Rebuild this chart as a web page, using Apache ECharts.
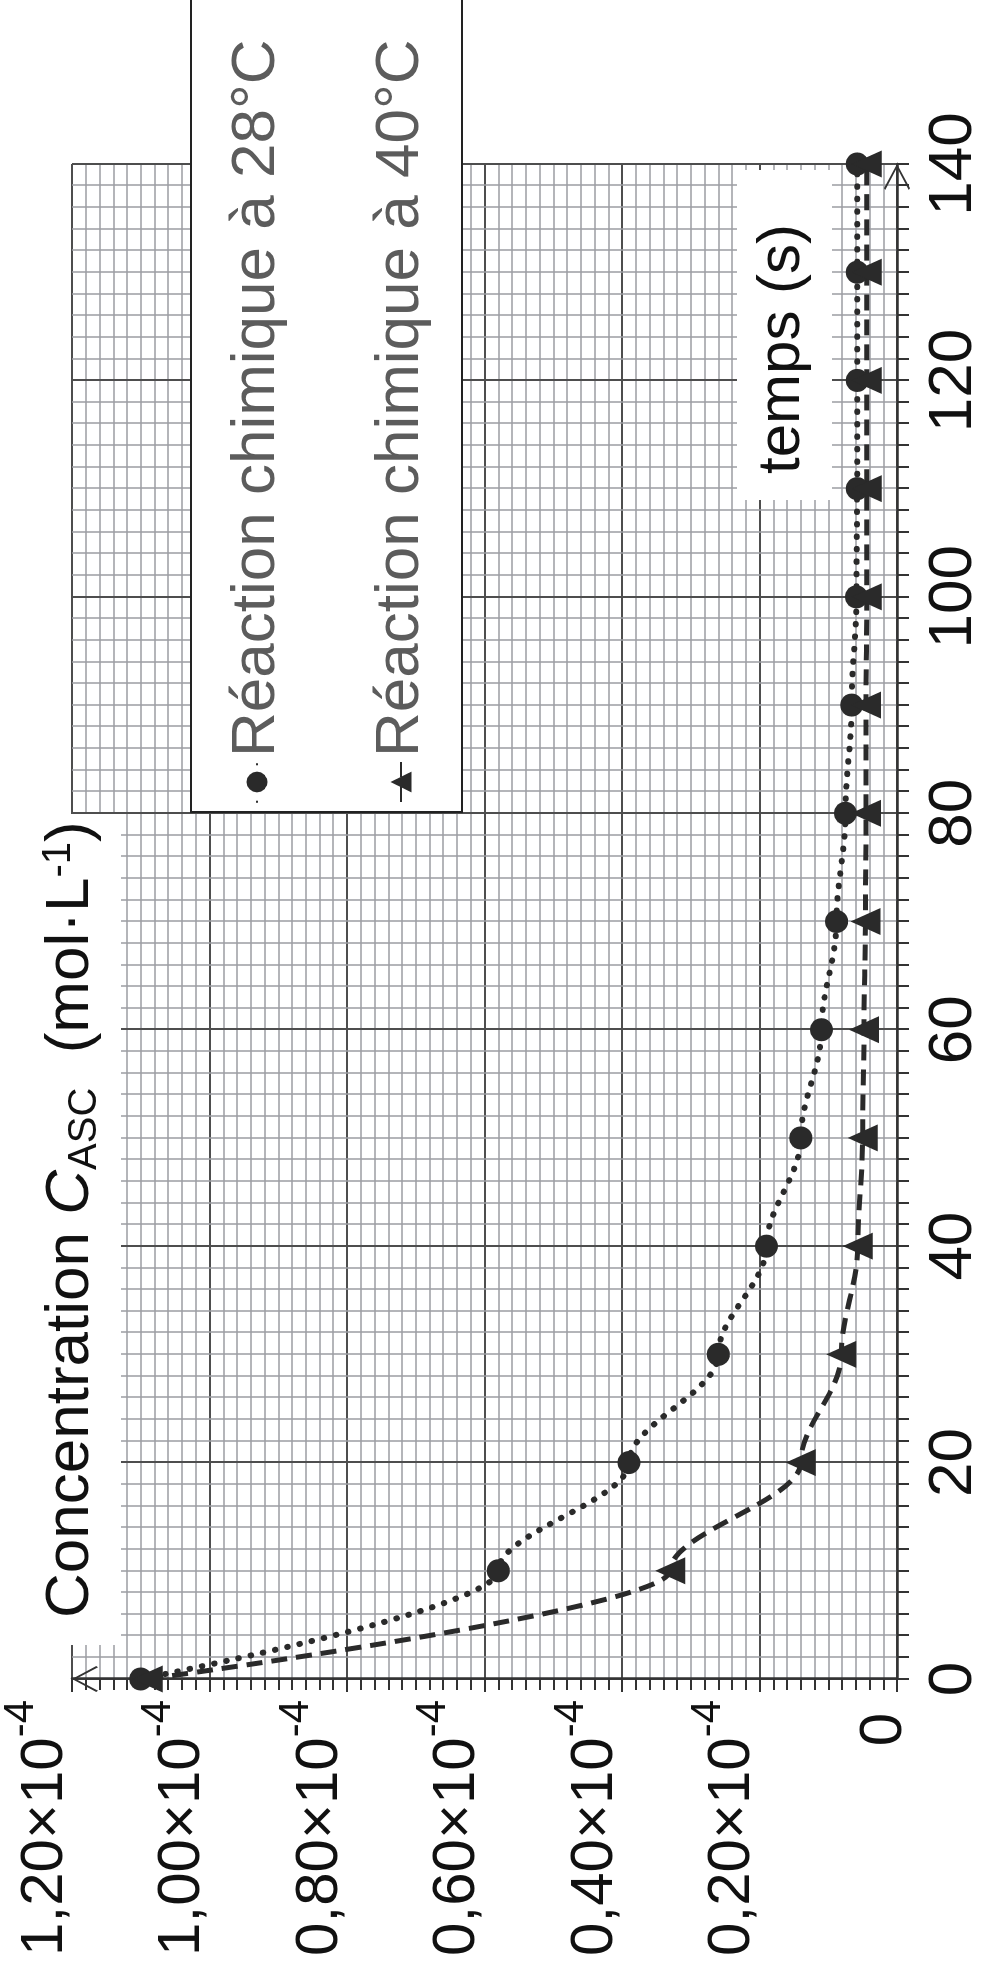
<!DOCTYPE html>
<html>
<head>
<meta charset="utf-8">
<script src="https://cdn.jsdelivr.net/npm/echarts@6/dist/echarts.min.js"></script>
<style>
  html, body { margin: 0; padding: 0; background: #fff; }
  #wrap { position: relative; width: 985px; height: 1974px; overflow: hidden; }
  /* the chart is drawn lying down, then turned a quarter turn counter-clockwise */
  #chart {
    position: absolute; left: 0; top: 0;
    width: 1974px; height: 985px;
    transform-origin: 0 0;
    transform: translateY(1974px) rotate(-90deg);
  }
</style>
</head>
<body>
<div id="wrap"><div id="chart"></div></div>
<script>
// temps en s
var temps = [0, 10, 20, 30, 40, 50, 60, 70, 80, 90, 100, 110, 120, 130, 140];
// concentration en 10^-4 mol/L
var conc28 = [1.10, 0.58, 0.39, 0.26, 0.19, 0.14, 0.11, 0.088, 0.075, 0.066, 0.059, 0.058, 0.058, 0.058, 0.058];
var conc40 = [1.09, 0.33, 0.14, 0.081, 0.057, 0.050, 0.048, 0.046, 0.045, 0.045, 0.044, 0.044, 0.044, 0.044, 0.044];
var noms = ['Réaction chimique à 28°C', 'Réaction chimique à 40°C'];

var font = '"Liberation Sans", Arial, Helvetica, sans-serif';
var ink = '#2a2a2a';
var chevron = 'path://M50,0 L100,93 L95,100 L50,14 L5,100 L0,93 Z';

var myChart = echarts.init(document.getElementById('chart'));

function pts(vals) {
  return temps.map(function (t, i) { return [t, vals[i]]; });
}

var option = {
  animation: false,
  backgroundColor: '#fff',
  grid: { left: 295, right: 164, top: 50, bottom: 81 },
  legend: {
    data: noms,
    orient: 'vertical',
    left: 1171,
    top: 226,
    padding: 0,
    itemGap: 82,
    itemWidth: 40,
    itemHeight: 26,
    z: 20,
    textStyle: { fontSize: 62, lineHeight: 62, color: '#5c5c5c', fontFamily: font }
  },
  xAxis: {
    type: 'value',
    min: 0,
    max: 140,
    interval: 20,
    axisLine: {
      lineStyle: { color: '#333', width: 2.5 },
      symbol: ['none', chevron],
      symbolSize: [26, 30],
      symbolOffset: [0, -13]
    },
    axisTick: { length: 12, lineStyle: { color: '#333', width: 2 } },
    minorTick: { show: true, splitNumber: 10, length: 12, lineStyle: { color: '#333', width: 2 } },
    splitLine: { lineStyle: { color: '#4e4e4e', width: 2 } },
    minorSplitLine: { show: true, lineStyle: { color: '#9c9da3', width: 1.5 } },
    axisLabel: { fontSize: 62, lineHeight: 62, margin: 26, color: '#111', fontFamily: font }
  },
  yAxis: {
    type: 'value',
    min: 0,
    max: 1.2,
    interval: 0.2,
    axisLine: {
      show: true,
      lineStyle: { color: '#333', width: 2.5 },
      symbol: ['none', chevron],
      symbolSize: [26, 30],
      symbolOffset: [0, -13]
    },
    axisTick: { show: true, length: 13, lineStyle: { color: '#333', width: 2 } },
    minorTick: { show: true, splitNumber: 10, length: 11, lineStyle: { color: '#333', width: 2 } },
    splitLine: { lineStyle: { color: '#4e4e4e', width: 2 } },
    minorSplitLine: { show: true, lineStyle: { color: '#9c9da3', width: 1.5 } },
    axisLabel: {
      margin: 21,
      color: '#111',
      fontFamily: font,
      formatter: function (v) {
        if (v === 0) return '{z|0}';
        return '{a|' + v.toFixed(2).replace('.', ',') + '×10}{s|-4}';
      },
      rich: {
        a: { fontSize: 60, lineHeight: 60, padding: [0, 0, 27, 0], verticalAlign: 'bottom', fontFamily: font, color: '#111' },
        s: { fontSize: 42, lineHeight: 42, padding: [0, 0, 60, 0], verticalAlign: 'bottom', fontFamily: font, color: '#111' },
        z: { fontSize: 60, lineHeight: 60, padding: [0, 13, 13, 0], verticalAlign: 'bottom', fontFamily: font, color: '#111' }
      }
    }
  },
  graphic: [
    // fonds blancs sous les titres et la légende
    { type: 'rect', z: 5, shape: { x: 329, y: 30, width: 831, height: 91 }, style: { fill: '#fff' } },
    { type: 'rect', z: 5, shape: { x: 1474, y: 737, width: 330, height: 95 }, style: { fill: '#fff' } },
    { type: 'rect', z: 5, shape: { x: 1162, y: 191, width: 900, height: 271 }, style: { fill: '#fff', stroke: '#222', lineWidth: 2 } },
    {
      type: 'text', z: 6, x: 356, y: 46,
      style: {
        text: '{n|Concentration }{i|C}{b|ASC}{n|  (mol·L}{p|-1}{n|)}',
        verticalAlign: 'top',
        align: 'left',
        rich: {
          n: { fontSize: 62, lineHeight: 62, padding: [0, 0, 6, 0], verticalAlign: 'bottom', fontFamily: font, fill: '#111' },
          i: { fontSize: 62, lineHeight: 62, padding: [0, 0, 6, 0], verticalAlign: 'bottom', fontStyle: 'italic', fontFamily: font, fill: '#111' },
          b: { fontSize: 40, lineHeight: 40, padding: [0, 0, 3, 0], verticalAlign: 'bottom', fontFamily: font, fill: '#111' },
          p: { fontSize: 40, lineHeight: 40, padding: [0, 0, 29, 0], verticalAlign: 'bottom', fontFamily: font, fill: '#111' }
        }
      }
    },
    {
      type: 'text', z: 6, x: 1500, y: 782,
      style: { text: 'temps (s)', fontSize: 60, fontFamily: font, fill: '#111', verticalAlign: 'middle', align: 'left' }
    }
  ],
  series: [
    {
      name: noms[0],
      type: 'line',
      data: pts(conc28),
      smooth: 0.35,
      smoothMonotone: 'x',
      symbol: 'circle',
      symbolSize: 23,
      itemStyle: { color: ink },
      lineStyle: { color: ink, width: 6, type: [0.5, 12], cap: 'round' },
      z: 3
    },
    {
      name: noms[1],
      type: 'line',
      data: pts(conc40),
      smooth: 0.35,
      smoothMonotone: 'x',
      symbol: 'triangle',
      symbolSize: [27, 30],
      itemStyle: { color: ink },
      lineStyle: { color: ink, width: 5, type: [16, 9] },
      z: 3
    }
  ]
};

myChart.setOption(option);
</script>
</body>
</html>
